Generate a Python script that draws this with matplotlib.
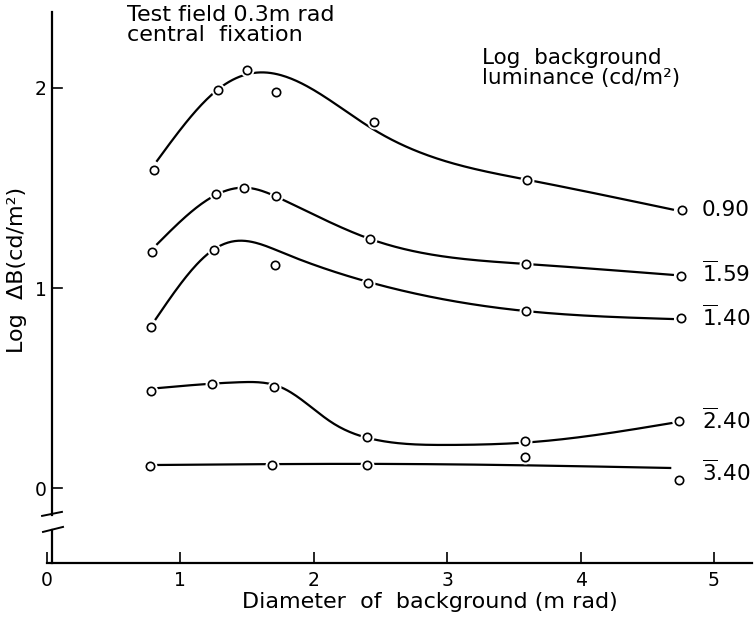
import numpy as np
import matplotlib
matplotlib.use("Agg")
import matplotlib.pyplot as plt

# measured points (diameter of background, log dB)
x_090 = [0.80, 1.28, 1.50, 1.72, 2.45, 3.60, 4.76]
y_090 = [1.59, 1.99, 2.09, 1.98, 1.83, 1.54, 1.39]
x_159 = [0.79, 1.27, 1.48, 1.72, 2.42, 3.59, 4.75]
y_159 = [1.18, 1.47, 1.50, 1.46, 1.245, 1.12, 1.06]
x_140 = [0.78, 1.25, 1.71, 2.41, 3.59, 4.75]
y_140 = [0.805, 1.19, 1.115, 1.025, 0.885, 0.85]
x_240 = [0.78, 1.24, 1.70, 2.40, 3.58, 4.74]
y_240 = [0.486, 0.52, 0.506, 0.257, 0.237, 0.337]
x_340 = [0.77, 1.69, 2.40, 3.58, 4.74]
y_340 = [0.112, 0.117, 0.117, 0.157, 0.042]

# hand-fitted curves
cx_090 = [0.82, 1.28, 1.58, 2.45, 3.60, 4.70]
cy_090 = [1.63, 1.99, 2.075, 1.79, 1.54, 1.39]
cx_159 = [0.82, 1.24, 1.50, 1.77, 2.42, 3.59, 4.70]
cy_159 = [1.215, 1.455, 1.50, 1.44, 1.245, 1.12, 1.065]
cx_140 = [0.81, 1.245, 1.42, 1.77, 2.41, 3.59, 4.70]
cy_140 = [0.84, 1.19, 1.235, 1.175, 1.03, 0.885, 0.845]
cx_240 = [0.82, 1.45, 1.77, 2.14, 2.47, 3.00, 3.65, 4.69]
cy_240 = [0.50, 0.53, 0.50, 0.327, 0.242, 0.217, 0.232, 0.327]
cx_340 = [0.82, 2.65, 4.68]
cy_340 = [0.117, 0.122, 0.102]

series_labels = [r"0.90", r"$\overline{1}$.59", r"$\overline{1}$.40",
                 r"$\overline{2}$.40", r"$\overline{3}$.40"]
label_y = [1.39, 1.075, 0.855, 0.342, 0.082]


def spline(xk, yk, n=300):
    # natural cubic spline through the curve knots
    xk = np.asarray(xk, float)
    yk = np.asarray(yk, float)
    m = len(xk)
    if m < 3:
        return xk, yk
    h = np.diff(xk)
    A = np.zeros((m, m))
    b = np.zeros(m)
    A[0, 0] = A[-1, -1] = 1
    for i in range(1, m - 1):
        A[i, i - 1] = h[i - 1]
        A[i, i] = 2 * (h[i - 1] + h[i])
        A[i, i + 1] = h[i]
        b[i] = 6 * ((yk[i + 1] - yk[i]) / h[i] - (yk[i] - yk[i - 1]) / h[i - 1])
    M = np.linalg.solve(A, b)
    xs = np.linspace(xk[0], xk[-1], n)
    idx = np.clip(np.searchsorted(xk, xs) - 1, 0, m - 2)
    x0, x1 = xk[idx], xk[idx + 1]
    hh = x1 - x0
    t0, t1 = x1 - xs, xs - x0
    ys = (M[idx] * t0 ** 3 + M[idx + 1] * t1 ** 3) / (6 * hh) \
        + (yk[idx] / hh - M[idx] * hh / 6) * t0 \
        + (yk[idx + 1] / hh - M[idx + 1] * hh / 6) * t1
    return xs, ys


plt.rcParams["font.family"] = "DejaVu Sans"
plt.rcParams["mathtext.fontset"] = "dejavusans"

fig = plt.figure(figsize=(7.54, 6.21), dpi=100)
ax = fig.add_axes([47 / 754, 58 / 621, 705 / 754, 551 / 621])
ax.set_xlim(0, 5.285)
ax.set_ylim(-0.372, 2.377)

points = [(x_090, y_090), (x_159, y_159), (x_140, y_140), (x_240, y_240), (x_340, y_340)]
curves = [(cx_090, cy_090), (cx_159, cy_159), (cx_140, cy_140), (cx_240, cy_240), (cx_340, cy_340)]

for (cx, cy), (px, py), lab, ly in zip(curves, points, series_labels, label_y):
    xs, ys = spline(cx, cy)
    ax.plot(xs, ys, color="black", lw=1.6, zorder=2, solid_capstyle="butt")
    ax.plot(px, py, "o", ms=9, color="white", mec="white", zorder=3)
    ax.plot(px, py, "o", ms=6, mfc="white", mec="black", mew=1.2, zorder=4)
    ax.text(4.91, ly, lab, fontsize=15.5, ha="left", va="center")

for s in ["top", "right", "left"]:
    ax.spines[s].set_visible(False)
ax.spines["bottom"].set_linewidth(1.6)

# broken y axis
yax = 0.04
ax.plot([yax, yax], [-0.372, -0.205], color="black", lw=1.6, clip_on=False)
ax.plot([yax, yax], [-0.135, 2.377], color="black", lw=1.6, clip_on=False)
ax.plot([-0.037, 0.112], [-0.137, -0.117], color="black", lw=1.4, clip_on=False)
ax.plot([-0.03, 0.12], [-0.217, -0.192], color="black", lw=1.4, clip_on=False)

ax.set_xticks([0, 1, 2, 3, 4, 5])
ax.set_yticks([0, 1, 2])
ax.tick_params(direction="in", length=8, width=1.2, labelsize=13.5, pad=6)
ax.tick_params(axis="y", left=False, pad=0)
for yt in [0, 1, 2]:
    ax.plot([yax, yax + 0.07], [yt, yt], color="black", lw=1.2)

ax.set_xlabel("Diameter  of  background (m rad)", fontsize=16)
ax.xaxis.set_label_coords(0.543, -0.052)
ax.set_ylabel("Log  \u0394B(cd/m\u00b2)", fontsize=16)
ax.yaxis.set_label_coords(-0.028, 0.532)

fig.text(127 / 754, 1 - 5 / 621, "Test field 0.3m rad\ncentral  fixation",
         fontsize=16, ha="left", va="top", linespacing=1.0)
fig.text(482 / 754, 1 - 48 / 621, "Log  background\nluminance (cd/m\u00b2)",
         fontsize=15.5, ha="left", va="top", linespacing=1.0)

fig.savefig("out.png", dpi=100)
